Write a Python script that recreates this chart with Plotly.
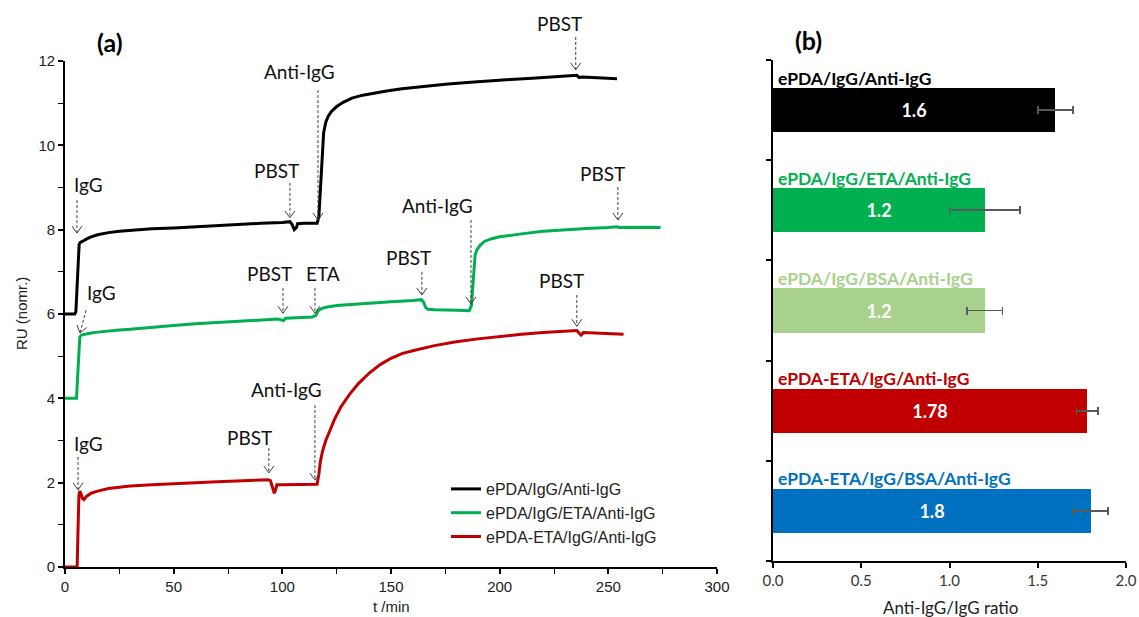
import math
import plotly.graph_objects as go

W, H = 1139, 617

# ---------------- data: panel (a) sensorgrams ----------------
t_black = [0, 2, 4.5, 5.0, 5.5, 6.0, 6.5, 7.0, 8, 10, 12, 15, 20, 25, 30, 40, 50, 60, 70, 80, 90, 100,
           103.5, 104.5, 105.5, 106.5, 107, 110, 114, 116, 116.8, 117.3, 117.8, 118.3, 119, 120, 121,
           122.5, 125, 128, 132, 137, 142, 148, 155, 165, 175, 185, 195, 205, 215, 225, 234, 235.5,
           236.5, 238, 245, 254]
ru_black = [6.0, 6.0, 6.0, 6.05, 6.6, 7.3, 7.65, 7.7, 7.72, 7.78, 7.83, 7.88, 7.93, 7.96, 7.98, 8.02,
            8.04, 8.07, 8.09, 8.12, 8.15, 8.17, 8.19, 8.12, 8.0, 8.05, 8.14, 8.15, 8.15, 8.15, 8.3,
            8.8, 9.4, 9.9, 10.3, 10.55, 10.68, 10.8, 10.92, 11.02, 11.12, 11.19, 11.24, 11.29, 11.34,
            11.40, 11.45, 11.49, 11.53, 11.56, 11.59, 11.62, 11.65, 11.66, 11.61, 11.62, 11.60, 11.58]

t_green = [0, 3, 5.3, 5.8, 6.3, 6.8, 7.5, 9, 12, 15, 18, 20, 25, 30, 40, 50, 60, 70, 80, 90, 98, 99.5,
           100.5, 101.5, 105, 110, 114, 115.5, 116.5, 118, 120, 125, 130, 140, 150, 160, 164, 165,
           166, 167, 170, 180, 186, 187, 187.5, 188, 188.7, 189.5, 191, 193, 196, 200, 205, 210, 220,
           230, 240, 250, 254, 255, 260, 268, 274]
ru_green = [4.0, 4.0, 4.0, 4.5, 5.2, 5.45, 5.5, 5.52, 5.55, 5.57, 5.58, 5.6, 5.62, 5.64, 5.69, 5.73,
            5.77, 5.8, 5.83, 5.86, 5.88, 5.86, 5.84, 5.9, 5.91, 5.92, 5.93, 5.97, 6.08, 6.13, 6.16,
            6.2, 6.22, 6.26, 6.29, 6.32, 6.34, 6.28, 6.15, 6.11, 6.1, 6.09, 6.08, 6.2, 6.6, 7.1, 7.4,
            7.52, 7.63, 7.72, 7.78, 7.83, 7.87, 7.9, 7.96, 8.0, 8.03, 8.05, 8.07, 8.05, 8.06, 8.06, 8.05]

t_red = [0, 3, 5.6, 6.0, 6.4, 6.8, 7.3, 8.0, 8.7, 10, 12, 15, 20, 25, 30, 40, 50, 60, 70, 80, 90, 93.5,
         94.5, 95.5, 96.3, 97, 97.5, 100, 110, 116, 116.8, 117.5, 118.5, 120, 122, 124, 127, 131, 135,
         140, 145, 150, 155, 160, 170, 180, 190, 200, 210, 220, 230, 235.5, 236.5, 237.5, 238.5, 245,
         252, 257]
ru_red = [0, 0, 0, 0.9, 1.7, 1.8, 1.75, 1.63, 1.6, 1.68, 1.75, 1.8, 1.86, 1.89, 1.92, 1.95, 1.98, 2.0,
          2.02, 2.04, 2.06, 2.07, 2.05, 1.85, 1.75, 1.85, 1.95, 1.95, 1.96, 1.96, 2.2, 2.5, 2.75, 3.0,
          3.25, 3.5, 3.8, 4.1, 4.35, 4.6, 4.8, 4.95, 5.06, 5.13, 5.25, 5.34, 5.41, 5.47, 5.52, 5.56,
          5.59, 5.61, 5.55, 5.5, 5.56, 5.55, 5.54, 5.52]

series_names = ["ePDA/IgG/Anti-IgG", "ePDA/IgG/ETA/Anti-IgG", "ePDA-ETA/IgG/Anti-IgG"]

# event annotations: label, text (t, RU), arrow start (t, RU), arrow tip (t, RU)
event_labels = ["IgG", "PBST", "Anti-IgG", "PBST",
                "IgG", "PBST", "ETA", "PBST", "Anti-IgG", "PBST",
                "IgG", "PBST", "Anti-IgG", "PBST"]
event_text_t = [11.0, 97.1, 108.1, 227.7, 17.0, 94.3, 118.7, 158.2, 171.6, 247.5, 11.0, 85.1, 101.7, 228.6]
event_text_ru = [9.06, 9.41, 11.74, 12.9, 6.50, 6.97, 6.97, 7.33, 8.58, 9.34, 2.92, 3.08, 4.20, 6.80]
event_start_t = [5.5, 103.5, 116.4, 235.0, 9.7, 100.3, 115.0, 164.2, 186.8, 254.4, 6.0, 93.8, 115.0, 235.5]
event_start_ru = [8.70, 9.11, 11.31, 12.57, 6.09, 6.62, 6.62, 7.00, 8.23, 9.01, 2.61, 2.82, 3.84, 6.45]
event_tip_t = [5.5, 103.5, 116.4, 235.0, 6.9, 100.3, 115.0, 164.2, 186.8, 254.4, 6.0, 93.8, 115.0, 235.5]
event_tip_ru = [7.92, 8.28, 8.23, 11.79, 5.55, 6.02, 6.02, 6.45, 6.24, 8.23, 1.83, 2.23, 2.06, 5.71]

x_ticks_a = [0, 50, 100, 150, 200, 250, 300]
y_ticks_a = [0, 2, 4, 6, 8, 10, 12]

# ---------------- data: panel (b) ratios ----------------
categories = ["ePDA/IgG/Anti-IgG", "ePDA/IgG/ETA/Anti-IgG", "ePDA/IgG/BSA/Anti-IgG",
              "ePDA-ETA/IgG/Anti-IgG", "ePDA-ETA/IgG/BSA/Anti-IgG"]
ratios = [1.6, 1.2, 1.2, 1.78, 1.8]
ratio_labels = ["1.6", "1.2", "1.2", "1.78", "1.8"]
ratio_err = [0.1, 0.2, 0.1, 0.06, 0.1]
x_ticks_b = [0.0, 0.5, 1.0, 1.5, 2.0]
x_ticklabels_b = ["0.0", "0.5", "1.0", "1.5", "2.0"]

# ---------------- styles ----------------
line_colors = ["#000000", "#00B050", "#C00000"]
bar_colors = ["#000000", "#00B050", "#A9D18E", "#C00000", "#0070C0"]
label_colors = ["#000000", "#00B050", "#A9D18E", "#C00000", "#0070C0"]
CAL = "Lato, 'Open Sans', sans-serif"
ARI = "'Liberation Sans', Arial, sans-serif"

# domains
xa_dom = [65 / W, 717 / W]
ya_dom = [1 - 567 / H, 1 - 61 / H]
xb_dom = [773 / W, 1126 / W]
yb_dom = [1 - 561 / H, 1 - 60 / H]
XA_RANGE = [0, 300]
YA_RANGE = [0, 12]


def a_to_px(t, ru):
    fx = (t - XA_RANGE[0]) / (XA_RANGE[1] - XA_RANGE[0])
    fy = (ru - YA_RANGE[0]) / (YA_RANGE[1] - YA_RANGE[0])
    px = (xa_dom[0] + fx * (xa_dom[1] - xa_dom[0])) * W
    py = (1 - (ya_dom[0] + fy * (ya_dom[1] - ya_dom[0]))) * H
    return px, py


def px_to_paper(px, py):
    return px / W, 1 - py / H


fig = go.Figure()

for t, ru, name, col in zip([t_black, t_green, t_red], [ru_black, ru_green, ru_red],
                            series_names, line_colors):
    fig.add_trace(go.Scatter(x=t, y=ru, mode="lines", name=name,
                             line=dict(color=col, width=3),
                             xaxis="x", yaxis="y", showlegend=True))

# bars
fig.add_trace(go.Bar(
    y=[len(categories) - 0.5 - i for i in range(len(categories))],
    x=ratios, orientation="h", width=0.44,
    marker=dict(color=bar_colors, line=dict(width=0)),
    text=ratio_labels, textposition="inside", insidetextanchor="middle",
    textfont=dict(family=CAL, size=18, color="white", weight="bold"),
    error_x=dict(type="data", array=ratio_err, color="#595959", thickness=1.8, width=4),
    xaxis="x2", yaxis="y2", showlegend=False, hoverinfo="skip"))

annotations = []
shapes = []
arrow_col = "#404040"
for lab, tt, tr, st, sr, pt, pr in zip(event_labels, event_text_t, event_text_ru, event_start_t,
                                      event_start_ru, event_tip_t, event_tip_ru):
    tx, ty = px_to_paper(*a_to_px(tt, tr))
    annotations.append(dict(x=tx, y=ty, xref="paper", yref="paper", text=lab, showarrow=False,
                            font=dict(family=CAL, size=19, color="#111111"),
                            xanchor="center", yanchor="middle"))
    sx, sy = a_to_px(st, sr)
    ex, ey = a_to_px(pt, pr)
    p0 = px_to_paper(sx, sy)
    p1 = px_to_paper(ex, ey)
    shapes.append(dict(type="line", xref="paper", yref="paper", x0=p0[0], y0=p0[1], x1=p1[0], y1=p1[1],
                       line=dict(color=arrow_col, width=1, dash="3px,2px")))
    dx, dy = ex - sx, ey - sy
    L = math.hypot(dx, dy)
    ux, uy = dx / L, dy / L
    nx, ny = -uy, ux
    a1 = px_to_paper(ex - ux * 7 + nx * 5, ey - uy * 7 + ny * 5)
    a2 = px_to_paper(ex - ux * 7 - nx * 5, ey - uy * 7 - ny * 5)
    shapes.append(dict(type="path", xref="paper", yref="paper",
                       path=f"M {a1[0]},{a1[1]} L {p1[0]},{p1[1]} L {a2[0]},{a2[1]}",
                       line=dict(color=arrow_col, width=1)))

# category labels on panel (b)
for i, (cat, col) in enumerate(zip(categories, label_colors)):
    annotations.append(dict(x=0.015, y=len(categories) - 0.5 - i + 0.32, xref="x2", yref="y2",
                            text=f"<b>{cat}</b>", showarrow=False, xanchor="left", yanchor="middle",
                            font=dict(family=CAL, size=17.5, color=col)))

# panel labels and axis titles
annotations += [
    dict(x=110 / W, y=1 - 42 / H, xref="paper", yref="paper", text="<b>(a)</b>", showarrow=False,
         xanchor="center", yanchor="middle", font=dict(family=CAL, size=25, color="black")),
    dict(x=808 / W, y=1 - 40 / H, xref="paper", yref="paper", text="<b>(b)</b>", showarrow=False,
         xanchor="center", yanchor="middle", font=dict(family=CAL, size=25, color="black")),
    dict(x=21 / W, y=1 - 314 / H, xref="paper", yref="paper", text="RU (nomr.)", showarrow=False,
         xanchor="center", yanchor="middle", textangle=-90,
         font=dict(family=ARI, size=15, color="#222222")),
    dict(x=391 / W, y=1 - 606 / H, xref="paper", yref="paper", text="t /min", showarrow=False,
         xanchor="center", yanchor="middle", font=dict(family=ARI, size=15, color="#222222")),
    dict(x=950 / W, y=1 - 607 / H, xref="paper", yref="paper", text="Anti-IgG/IgG ratio", showarrow=False,
         xanchor="center", yanchor="middle", font=dict(family=CAL, size=17, color="#222222")),
]

axis_common = dict(showline=True, linecolor="black", linewidth=1.8, ticks="outside", ticklen=5,
                   tickwidth=1.5, tickcolor="black", showgrid=False, zeroline=False, mirror=False,
                   automargin=False)

fig.update_layout(
    template="none",
    width=W, height=H, autosize=False,
    margin=dict(l=0, r=0, t=0, b=0, pad=0, autoexpand=False),
    paper_bgcolor="white", plot_bgcolor="white",
    xaxis=dict(domain=xa_dom, range=XA_RANGE, anchor="y", tickvals=x_ticks_a,
               tickfont=dict(family=ARI, size=15, color="#222222"),
               minor=dict(tickvals=[25, 75, 125, 175, 225, 275], ticks="outside", ticklen=5,
                          tickwidth=1.2, tickcolor="black"), **axis_common),
    yaxis=dict(domain=ya_dom, range=YA_RANGE, anchor="x", tickvals=y_ticks_a,
               tickfont=dict(family=ARI, size=15, color="#222222"),
               minor=dict(tickvals=[1, 3, 5, 7, 9, 11], ticks="outside", ticklen=5,
                          tickwidth=1.2, tickcolor="black"), **axis_common),
    xaxis2=dict(domain=xb_dom, range=[0, 2.0], anchor="y2", tickvals=x_ticks_b, ticktext=x_ticklabels_b,
                tickfont=dict(family=CAL, size=15, color="#333333"), **axis_common),
    yaxis2=dict(domain=yb_dom, range=[0, 5], anchor="x2", tickvals=[0, 1, 2, 3, 4, 5],
                showticklabels=False, **axis_common),
    legend=dict(x=446 / W, y=1 - 472 / H, xanchor="left", yanchor="top", bgcolor="rgba(0,0,0,0)",
                font=dict(family=ARI, size=16, color="#222222"), tracegroupgap=0, itemwidth=30),
    annotations=annotations,
    shapes=shapes,
    bargap=0,
)

fig.write_html("out.html", config={"displayModeBar": False},
               post_script="document.body.style.margin='0px';document.body.style.padding='0px';")
